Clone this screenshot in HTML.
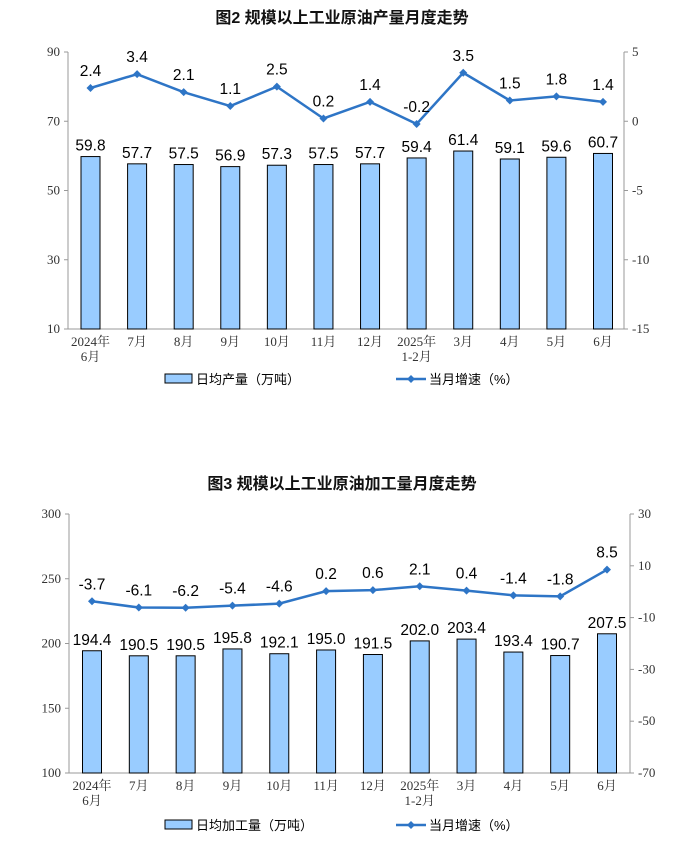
<!DOCTYPE html>
<html><head><meta charset="utf-8"><style>
body{margin:0;background:#fff;width:684px;height:837px;overflow:hidden}
svg text{font-family:"Liberation Sans","Noto Sans CJK SC",sans-serif}
.ax{font-family:"Liberation Serif","Noto Serif CJK SC",serif;font-size:13px;fill:#333}
</style></head><body>
<svg id="s" width="684" height="837" xmlns="http://www.w3.org/2000/svg"></svg>
<script>
const categories=["2024年|6月","7月","8月","9月","10月","11月","12月","2025年|1-2月","3月","4月","5月","6月"];
const crudeOutput=[59.8,57.7,57.5,56.9,57.3,57.5,57.7,59.4,61.4,59.1,59.6,60.7];
const crudeGrowth=[2.4,3.4,2.1,1.1,2.5,0.2,1.4,-0.2,3.5,1.5,1.8,1.4];
const procOutput=[194.4,190.5,190.5,195.8,192.1,195.0,191.5,202.0,203.4,193.4,190.7,207.5];
const procGrowth=[-3.7,-6.1,-6.2,-5.4,-4.6,0.2,0.6,2.1,0.4,-1.4,-1.8,8.5];
const leftTicks1=[10,30,50,70,90], rightTicks1=[-15,-10,-5,0,5];
const leftTicks2=[100,150,200,250,300], rightTicks2=[-70,-50,-30,-10,10,30];
const NS="http://www.w3.org/2000/svg";
const svg=document.getElementById('s');
function el(t,a,txt){const e=document.createElementNS(NS,t);for(const k in a)e.setAttribute(k,a[k]);if(txt!==undefined)e.textContent=txt;svg.appendChild(e);return e;}
function chart(cfg){
  const {id,title,titleY,top,bot,x0,x1,c0,c1,lmin,lmax,rmin,rmax,lt,rt,bars,line,legY,legName}=cfg;
  const yl=v=>bot-(v-lmin)/(lmax-lmin)*(bot-top);
  const yr=v=>bot-(v-rmin)/(rmax-rmin)*(bot-top);
  const xc=i=>c0+i*(c1-c0)/(categories.length-1);
  let t=el('text',{x:342,y:titleY,'text-anchor':'middle','font-size':'16','font-weight':'bold',fill:'#111'},title);
  
  let a=el('line',{x1:x0,y1:top,x2:x0,y2:bot,stroke:'#999'});
  a=el('line',{x1:x1,y1:top,x2:x1,y2:bot,stroke:'#999'});
  a=el('line',{x1:x0,y1:bot,x2:x1,y2:bot,stroke:'#999'});
  lt.forEach(v=>{el('line',{x1:x0-4,y1:yl(v),x2:x0,y2:yl(v),stroke:'#999'});
    const e=el('text',{x:x0-8,y:yl(v)+4,'text-anchor':'end',class:'ax'},v);});
  rt.forEach(v=>{el('line',{x1:x1,y1:yr(v),x2:x1+4,y2:yr(v),stroke:'#999'});
    const e=el('text',{x:x1+8,y:yr(v)+4,'text-anchor':'start',class:'ax'},v);});
  categories.forEach((c,i)=>{const p=c.split('|');p.forEach((s,j)=>{const e=el('text',{x:xc(i),y:bot+17+j*15,'text-anchor':'middle',class:'ax'},s);
    });});
  bars.forEach((v,i)=>{const r=el('rect',{x:xc(i)-9.5,y:yl(v),width:19,height:bot-yl(v),fill:'#99ccff',stroke:'#000','stroke-width':1});
    
    const e=el('text',{x:xc(i),y:yl(v)-6,'text-anchor':'middle','font-size':'15.5',fill:'#000'},v.toFixed(1));
    });
  const pl=el('polyline',{points:line.map((v,i)=>xc(i)+','+yr(v)).join(' '),fill:'none',stroke:'#2e75c6','stroke-width':2.5});
  
  line.forEach((v,i)=>{const x=xc(i),y=yr(v);
    const m=el('path',{d:`M${x} ${y-4}L${x+4} ${y}L${x} ${y+4}L${x-4} ${y}Z`,fill:'#2e75c6'});
    const e=el('text',{x:x,y:y-12,'text-anchor':'middle','font-size':'15.5',fill:'#000'},v.toFixed(1));});
  let r=el('rect',{x:165,y:legY-6,width:27,height:9,fill:'#99ccff',stroke:'#000'});
  let e=el('text',{x:196,y:legY+4,'font-size':'13',fill:'#000'},legName);
  let l=el('line',{x1:396,y1:legY-1,x2:426,y2:legY-1,stroke:'#2e75c6','stroke-width':2.5});
  el('path',{d:`M411 ${legY-5}L415 ${legY-1}L411 ${legY+3}L407 ${legY-1}Z`,fill:'#2e75c6'});
  e=el('text',{x:429,y:legY+4,'font-size':'13',fill:'#000'},'当月增速（%）');
}
chart({id:'crude-output',title:'图2  规模以上工业原油产量月度走势',titleY:23,top:52,bot:329,x0:68,x1:624,c0:90.5,c1:603,lmin:10,lmax:90,rmin:-15,rmax:5,lt:leftTicks1,rt:rightTicks1,bars:crudeOutput,line:crudeGrowth,legY:380,legName:'日均产量（万吨）'});
chart({id:'crude-processing',title:'图3  规模以上工业原油加工量月度走势',titleY:489,top:514,bot:773,x0:69,x1:630,c0:92,c1:607,lmin:100,lmax:300,rmin:-70,rmax:30,lt:leftTicks2,rt:rightTicks2,bars:procOutput,line:procGrowth,legY:826,legName:'日均加工量（万吨）'});
</script>
</body></html>
